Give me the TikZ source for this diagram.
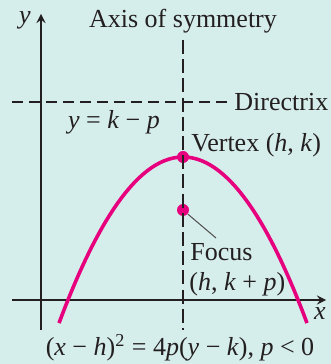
\documentclass[tikz,border=0pt]{standalone}
\usepackage{fontspec}
\setmainfont{Liberation Serif}
\usetikzlibrary{calc}
\definecolor{bgteal}{HTML}{D6EEEB}
\definecolor{curvepink}{HTML}{E6007E}
\definecolor{inkgray}{HTML}{231F20}
\newcommand{\mv}[1]{\textit{#1}}

\begin{document}
\begin{tikzpicture}[x=5pt,y=5pt,
    every node/.style={font=\fontsize{13}{15}\selectfont,text=inkgray,inner sep=1pt},
    axisline/.style={inkgray,line width=1pt,->,>=stealth},
    dashline/.style={inkgray,line width=0.8pt,dash pattern=on 5.5pt off 3pt},
    vdashline/.style={inkgray,line width=0.8pt,dash pattern=on 7pt off 2.6pt},
    ptdot/.style={circle,fill=curvepink,inner sep=0pt,minimum size=6pt}]
          \fill[bgteal] (0,0) rectangle (33.1,36.4);
          \useasboundingbox (0,0) rectangle (33.1,36.4);
          % axes
          \coordinate (xstart) at (1.2,6.4);
          \coordinate (xend) at (32.6,6.4);
          \coordinate (ystart) at (4.1,3.4);
          \coordinate (yend) at (4.1,35.0);
          \draw[axisline] (xstart)--(xend);
          \draw[axisline] (ystart)--(yend);
          \node (xlab) at (32.0,5.0) {\mv{x}};
          \node (ylab) at (2.5,34.4) {\mv{y}};
          % parabola
          \draw[curvepink,line width=1.8pt,domain=-12.4:12.4,samples=60]
            plot ({18.3+\x},{20.7-0.108*\x*\x});
          \node[ptdot] (V) at (18.3,20.7) {};
          \node[ptdot] (F) at (18.3,15.4) {};
          % directrix and axis of symmetry
          \coordinate (dstart) at (1.2,26.2);
          \coordinate (dend) at (23.2,26.2);
          \coordinate (atop) at (18.3,32.4);
          \coordinate (abot) at (18.3,3.4);
          \draw[dashline] (dstart)--(dend);
          \draw[vdashline] (atop)--(abot);
          \node[anchor=west] (dirlab) at (dend) {Directrix};
          \node (dirEq) at (11.4,24.2) {\mv{y} = \mv{k} − \mv{p}};
          \node (axlab) at (18.3,34.3) {Axis of symmetry};
          % labels
          \node[anchor=west] (vlab) at (18.9,21.9) {Vertex (\mv{h}, \mv{k})};
          \node[anchor=west] (flab) at (18.8,11.2) {Focus};
          \node[anchor=west] (fco) at (18.7,8.0) {(\mv{h}, \mv{k} + \mv{p})};
          \coordinate (fend) at (21.6,12.6);
          \draw[inkgray!80,line width=0.5pt] (F)--(fend);
          \node (eq) at (18.0,1.6) {(\mv{x} − \mv{h})\textsuperscript{2} = 4\mv{p}(\mv{y} − \mv{k}), \mv{p} < 0};
        \end{tikzpicture}
\end{document}
